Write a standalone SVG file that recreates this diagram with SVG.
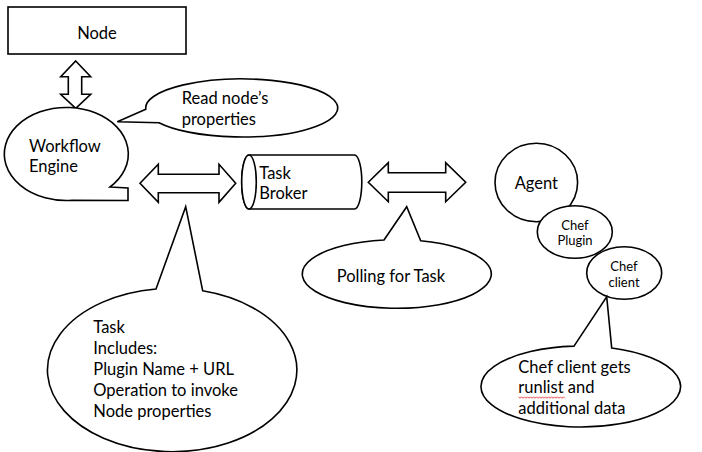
<svg xmlns="http://www.w3.org/2000/svg" width="702" height="452" viewBox="0 0 702 452">
<style>
.s{fill:#fff;stroke:#000;stroke-width:1.6;stroke-linejoin:miter}
.t{font-family:Lato,"Open Sans","Liberation Sans",sans-serif;font-size:16.5px;fill:#000}
.sm{font-size:13px}
.c{text-anchor:middle}
</style>
<rect width="702" height="452" fill="#fff"/>
<g id="connectors">
<path class="s" d="M75.7,61 L90.7,76.7 L81.7,76.7 L81.7,94.3 L90.7,94.3 L75.7,108.3 L60.7,94.3 L68.3,94.3 L68.3,76.7 L60.7,76.7 Z"/>
<path class="s" d="M140,183.3 L158.3,164.3 L158.3,174.3 L219,174.3 L219,164.3 L235.7,183.3 L219,202.3 L219,192.7 L158.3,192.7 L158.3,202.3 Z"/>
<path class="s" d="M368.3,182.3 L388.3,162.7 L388.3,172.7 L445.7,172.7 L445.7,162.7 L465.7,182.3 L445.7,201.7 L445.7,192.3 L388.3,192.3 L388.3,201.7 Z"/>
</g>
<g id="node">
<rect class="s" x="8" y="7" width="178" height="47"/>
<text class="t c" x="97" y="38.5">Node</text>
</g>
<g id="workflow-engine">
<path class="s" d="M110,187 L128,188 L128,200.5 L72,200.3 A62,46.5 0 1 1 110,187 Z"/>
<text class="t" x="29" y="151.7">Workflow</text>
<text class="t" x="29" y="172.3">Engine</text>
</g>
<g id="read-props">
<path class="s" d="M145.8,109.3 L117.3,121.7 L159,122.7 A96,29 0 1 0 145.8,109.3 Z"/>
<text class="t" x="181.7" y="104.3">Read node’s</text>
<text class="t" x="181.7" y="125.3">properties</text>
</g>
<g id="task-broker">
<path class="s" d="M249,155 L354.5,155 A7.3,27 0 0 1 354.5,209 L249,209 A7.3,27 0 0 1 249,155 Z"/>
<ellipse class="s" cx="249" cy="182" rx="7.3" ry="27"/>
<text class="t" x="259.3" y="179">Task</text>
<text class="t" x="259.3" y="199.4">Broker</text>
</g>
<g id="polling">
<path class="s" d="M384,240 L406.7,206.7 L420.7,240.8 A94.5,34.3 0 1 1 384,240 Z"/>
<text class="t" x="336.7" y="281.7">Polling for Task</text>
</g>
<g id="task-includes">
<path class="s" d="M156,289 L185.7,206.7 L202.7,290.8 A124.7,81.7 0 1 1 156,289 Z"/>
<text class="t" x="93.3" y="332.5">Task</text>
<text class="t" x="93.3" y="353.5">Includes:</text>
<text class="t" x="93.3" y="374.5">Plugin Name + URL</text>
<text class="t" x="93.3" y="395.5">Operation to invoke</text>
<text class="t" x="93.3" y="416.5">Node properties</text>
</g>
<g id="agent">
<ellipse class="s" cx="536.3" cy="182.5" rx="41.3" ry="39.2"/>
<text class="t c" x="536.3" y="189.3">Agent</text>
</g>
<g id="chef-plugin">
<ellipse class="s" cx="574.8" cy="232" rx="37.5" ry="26.3"/>
<text class="t sm c" x="575" y="230">Chef</text>
<text class="t sm c" x="575" y="245">Plugin</text>
</g>
<g id="chef-client">
<ellipse class="s" cx="624.2" cy="273" rx="37.5" ry="26.3"/>
<text class="t sm c" x="624" y="270.7">Chef</text>
<text class="t sm c" x="624" y="286.7">client</text>
</g>
<g id="chef-client-gets">
<path class="s" d="M574,346.1 L606.7,296.7 L611.7,348 A99.8,40.5 0 1 1 574,346.1 Z"/>
<text class="t" x="518.3" y="372.7">Chef client gets</text>
<text class="t" x="518.3" y="393.3">runlist and</text>
<text class="t" x="518.3" y="414">additional data</text>
<path d="M518.5,396.8 l1.5,1.5 l1.5,-1.5 l1.5,1.5 l1.5,-1.5 l1.5,1.5 l1.5,-1.5 l1.5,1.5 l1.5,-1.5 l1.5,1.5 l1.5,-1.5 l1.5,1.5 l1.5,-1.5 l1.5,1.5 l1.5,-1.5 l1.5,1.5 l1.5,-1.5 l1.5,1.5 l1.5,-1.5 l1.5,1.5 l1.5,-1.5 l1.5,1.5 l1.5,-1.5 l1.5,1.5 l1.5,-1.5 l1.5,1.5 l1.5,-1.5 l1.5,1.5 l1.5,-1.5 l1.5,1.5 l1.5,-1.5 l1.5,1.5" fill="none" stroke="#e02020" stroke-width="0.8"/>
</g>
</svg>
